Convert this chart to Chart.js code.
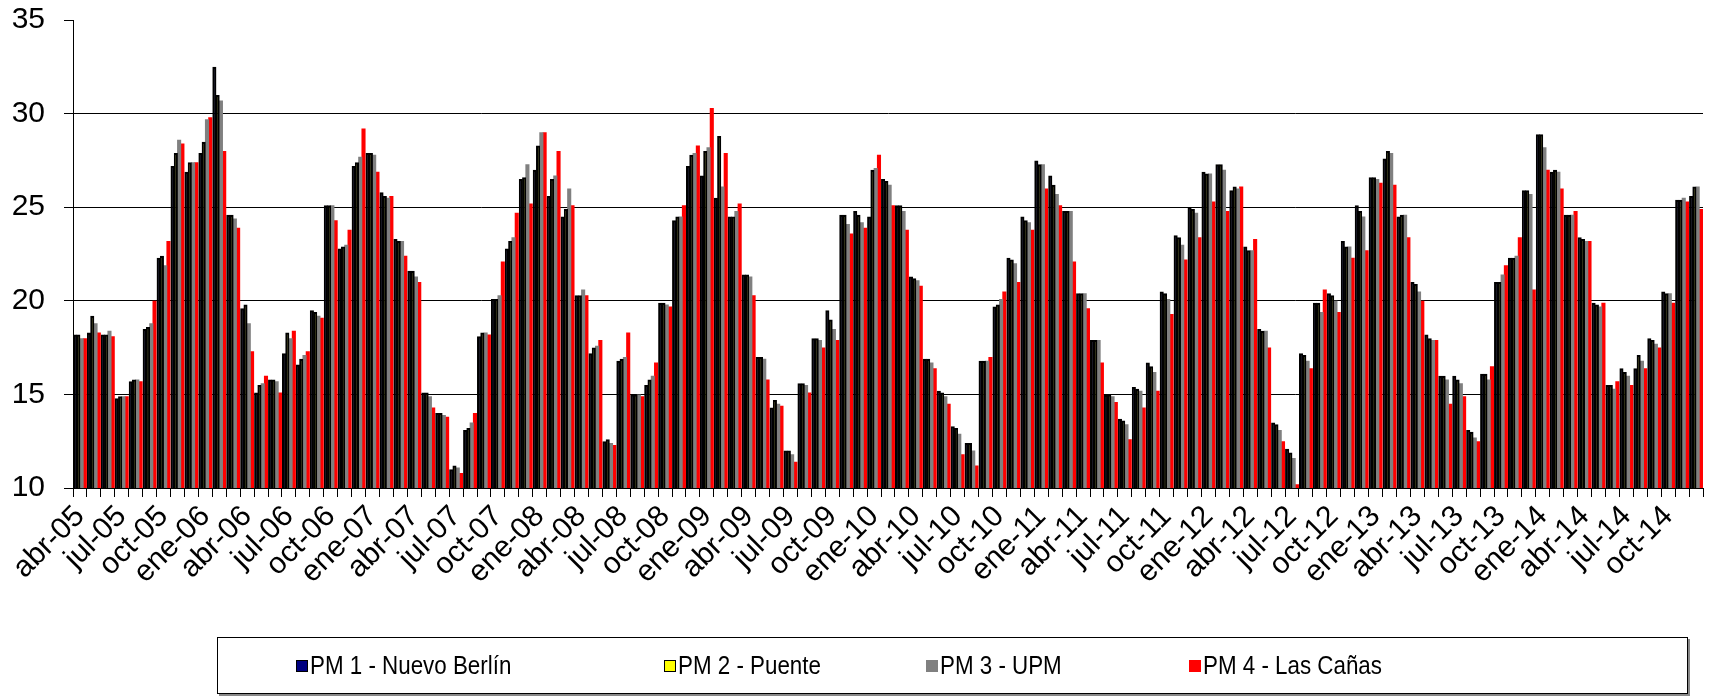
<!DOCTYPE html>
<html>
<head>
<meta charset="utf-8">
<script src="https://cdn.jsdelivr.net/npm/chart.js@4.4.1/dist/chart.umd.min.js"></script>
<style>
  html, body { margin: 0; padding: 0; background: #fff; }
  #wrap { position: relative; width: 1711px; height: 698px; }
  #legend {
    position: absolute; left: 217px; top: 637px; width: 1471px; height: 57px;
    border: 1px solid #000; box-sizing: border-box; box-shadow: 2px 2px 0 #888;
    font-family: "Liberation Sans", Arial, sans-serif; font-size: 26px; color: #000;
  }
  .item { position: absolute; top: 0; height: 100%; display: flex; align-items: center; white-space: nowrap; }
  .sw { width: 12px; height: 12px; margin-right: 2px; box-sizing: border-box; flex: none; }
  .txt { display: inline-block; transform: scaleX(0.86); transform-origin: left center; }
</style>
</head>
<body>
<div id="wrap">
  <canvas id="chart" width="1711" height="698"></canvas>
  <div id="legend"></div>
</div>
<script>
// months abr-05 .. dic-14
const categories = [
  'abr-05','may-05','jun-05','jul-05','ago-05','sep-05','oct-05','nov-05','dic-05',
  'ene-06','feb-06','mar-06','abr-06','may-06','jun-06','jul-06','ago-06','sep-06','oct-06','nov-06','dic-06',
  'ene-07','feb-07','mar-07','abr-07','may-07','jun-07','jul-07','ago-07','sep-07','oct-07','nov-07','dic-07',
  'ene-08','feb-08','mar-08','abr-08','may-08','jun-08','jul-08','ago-08','sep-08','oct-08','nov-08','dic-08',
  'ene-09','feb-09','mar-09','abr-09','may-09','jun-09','jul-09','ago-09','sep-09','oct-09','nov-09','dic-09',
  'ene-10','feb-10','mar-10','abr-10','may-10','jun-10','jul-10','ago-10','sep-10','oct-10','nov-10','dic-10',
  'ene-11','feb-11','mar-11','abr-11','may-11','jun-11','jul-11','ago-11','sep-11','oct-11','nov-11','dic-11',
  'ene-12','feb-12','mar-12','abr-12','may-12','jun-12','jul-12','ago-12','sep-12','oct-12','nov-12','dic-12',
  'ene-13','feb-13','mar-13','abr-13','may-13','jun-13','jul-13','ago-13','sep-13','oct-13','nov-13','dic-13',
  'ene-14','feb-14','mar-14','abr-14','may-14','jun-14','jul-14','ago-14','sep-14','oct-14','nov-14','dic-14'
];

const pm1 = [
  18.2, 18.3, 18.2, 14.8, 15.7, 18.5, 22.3, 27.2, 26.9,
  27.9, 32.5, 24.6, 19.6, 15.1, 15.8, 17.2, 16.6, 19.5, 25.1, 22.8, 27.2,
  27.9, 25.8, 23.3, 21.6, 15.1, 14.0, 11.0, 13.1, 18.1, 20.1, 22.8, 26.5,
  27.0, 25.6, 24.5, 20.3, 17.2, 12.5, 16.8, 15.0, 15.5, 19.9, 24.3, 27.2,
  26.7, 25.5, 24.5, 21.4, 17.0, 14.3, 12.0, 15.6, 18.0, 19.5, 24.6, 24.8,
  24.5, 26.5, 25.1, 21.3, 16.9, 15.2, 13.3, 12.4, 16.8, 19.7, 22.3, 24.5,
  27.5, 26.7, 24.8, 20.4, 17.9, 15.0, 13.7, 15.4, 16.7, 20.5, 23.5, 25.0,
  26.9, 27.3, 25.9, 22.9, 18.5, 13.5, 12.1, 17.2, 19.9, 20.4, 23.2, 25.1,
  26.6, 27.6, 24.5, 21.0, 18.2, 16.0, 16.0, 13.1, 16.1, 21.0, 22.3, 25.9,
  28.9, 26.9, 24.6, 23.4, 19.9, 15.5, 16.4, 16.4, 18.0, 20.5, 25.4, 25.6
];
const pm2 = [
  18.2, 19.2, 18.2, 14.9, 15.8, 18.6, 22.4, 27.9, 27.4,
  28.5, 31.0, 24.6, 19.8, 15.5, 15.8, 18.3, 16.9, 19.4, 25.1, 22.9, 27.4,
  27.9, 25.6, 23.2, 21.6, 15.1, 14.0, 11.2, 13.2, 18.3, 20.1, 23.2, 26.6,
  28.3, 26.5, 24.9, 20.3, 17.5, 12.6, 16.9, 15.0, 15.8, 19.9, 24.5, 27.8,
  28.0, 28.8, 24.5, 21.4, 17.0, 14.7, 12.0, 15.6, 18.0, 19.0, 24.6, 24.6,
  27.0, 26.4, 25.1, 21.2, 16.9, 15.1, 13.2, 12.4, 16.8, 19.8, 22.2, 24.3,
  27.3, 26.2, 24.8, 20.4, 17.9, 15.0, 13.6, 15.3, 16.5, 20.4, 23.4, 24.9,
  26.8, 27.3, 26.1, 22.7, 18.4, 13.4, 11.9, 17.1, 19.9, 20.3, 22.9, 24.8,
  26.6, 28.0, 24.6, 20.9, 18.0, 16.0, 15.8, 13.0, 16.1, 21.0, 22.3, 25.9,
  28.9, 27.0, 24.6, 23.3, 19.8, 15.5, 16.2, 17.1, 17.9, 20.4, 25.4, 26.1
];
const pm3 = [
  18.0, 18.8, 18.4, 14.9, 15.8, 18.8, 21.9, 28.6, 27.4,
  29.7, 30.7, 24.4, 18.8, 15.6, 15.7, 18.0, 17.1, 19.2, 25.1, 23.0, 27.7,
  27.8, 25.5, 23.2, 21.3, 14.9, 13.9, 11.1, 13.5, 18.3, 20.3, 23.4, 27.3,
  29.0, 26.7, 26.0, 20.6, 17.6, 12.4, 17.0, 15.0, 16.0, 19.8, 24.5, 27.9,
  28.2, 26.1, 24.8, 21.3, 16.9, 14.5, 11.8, 15.5, 17.9, 18.5, 24.1, 24.2,
  27.1, 26.2, 24.8, 21.1, 16.7, 14.9, 12.9, 12.0, 16.8, 20.1, 22.0, 24.2,
  27.3, 25.7, 24.8, 20.4, 17.9, 14.9, 13.4, 15.2, 16.2, 20.1, 23.0, 24.7,
  26.8, 27.0, 26.0, 22.7, 18.4, 13.1, 11.6, 16.8, 19.4, 20.0, 22.9, 24.5,
  26.5, 27.9, 24.6, 20.5, 17.9, 15.8, 15.6, 12.7, 15.8, 21.4, 22.4, 25.7,
  28.2, 26.9, 24.6, 23.2, 19.7, 15.3, 16.0, 16.8, 17.7, 20.4, 25.5, 26.1
];
const pm4 = [
  18.0, 18.3, 18.1, 14.9, 15.7, 20.0, 23.2, 28.4, 27.4,
  29.8, 28.0, 23.9, 17.3, 16.0, 15.1, 18.4, 17.3, 19.1, 24.3, 23.8, 29.2,
  26.9, 25.6, 22.4, 21.0, 14.3, 13.8, 10.8, 14.0, 18.2, 22.1, 24.7, 25.2,
  29.0, 28.0, 25.1, 20.3, 17.9, 12.3, 18.3, 14.9, 16.7, 19.7, 25.1, 28.3,
  30.3, 27.9, 25.2, 20.3, 15.8, 14.4, 11.4, 15.1, 17.5, 17.9, 23.6, 23.9,
  27.8, 25.1, 23.8, 20.8, 16.4, 14.5, 11.8, 11.2, 17.0, 20.5, 21.0, 23.8,
  26.0, 25.1, 22.1, 19.6, 16.7, 14.6, 12.6, 14.3, 15.2, 19.3, 22.2, 23.4,
  25.3, 24.8, 26.1, 23.3, 17.5, 12.5, 10.2, 16.4, 20.6, 19.4, 22.3, 22.7,
  26.3, 26.2, 23.4, 20.0, 17.9, 14.5, 14.9, 12.5, 16.5, 21.9, 23.4, 20.6,
  27.0, 26.0, 24.8, 23.2, 19.9, 15.7, 15.5, 16.4, 17.5, 19.9, 25.3, 24.9
];

const seriesNames = ['PM 1 - Nuevo Berlín', 'PM 2 - Puente', 'PM 3 - UPM', 'PM 4 - Las Cañas'];
const seriesColors = ['#000080', '#FFFF00', '#808080', '#FF0000'];
const seriesData = [pm1, pm2, pm3, pm4];
const yMin = 10, yMax = 35, yStep = 5;

Chart.defaults.font.family = '"Liberation Sans", Arial, sans-serif';
Chart.defaults.color = '#000';

// bars overlap slightly, later series drawn on top like the original
const datasets = seriesData.map((d, i) => ({
  label: seriesNames[i],
  data: d,
  backgroundColor: seriesColors[i],
  borderColor: '#000',
  borderWidth: i < 2 ? 2 : 0,
  categoryPercentage: 0.94,
  barPercentage: 1.25
}));

new Chart(document.getElementById('chart'), {
  type: 'bar',
  data: { labels: categories, datasets: datasets },
  options: {
    responsive: false,
    animation: false,
    layout: { padding: { top: 20, right: 8, bottom: 0, left: 0 } },
    plugins: { legend: { display: false }, tooltip: { enabled: false } },
    scales: {
      x: {
        grid: { display: true, drawOnChartArea: false, offset: true, color: '#000', tickLength: 9 },
        border: { color: '#000', width: 1 },
        ticks: {
          autoSkip: false, maxRotation: 45, minRotation: 45, padding: 2,
          font: { size: 30 },
          callback: function(val, i) { return i % 3 === 0 ? this.getLabelForValue(val) : ''; }
        },
        afterFit: s => { s.height = 210; s.paddingLeft = 0; s.paddingRight = 0; }
      },
      y: {
        min: yMin, max: yMax,
        grid: {
          color: c => (c.tick && c.tick.value === yMax) ? 'rgba(0,0,0,0)' : '#000',
          tickColor: '#000', tickLength: 9, lineWidth: 1
        },
        border: { color: '#000', width: 1 },
        ticks: { stepSize: yStep, padding: 19, font: { size: 30 } },
        afterFit: s => { s.width = 73; s.paddingTop = 0; s.paddingBottom = 0; }
      }
    }
  }
});

const legend = document.getElementById('legend');
const itemLeft = [78, 446, 708, 971];
seriesNames.forEach((name, i) => {
  const item = document.createElement('div');
  item.className = 'item';
  item.style.left = itemLeft[i] + 'px';
  const sw = document.createElement('span');
  sw.className = 'sw';
  sw.style.background = seriesColors[i];
  sw.style.border = i < 2 ? '1px solid #000' : 'none';
  const txt = document.createElement('span');
  txt.className = 'txt';
  txt.textContent = name;
  item.appendChild(sw);
  item.appendChild(txt);
  legend.appendChild(item);
});
</script>
</body>
</html>
